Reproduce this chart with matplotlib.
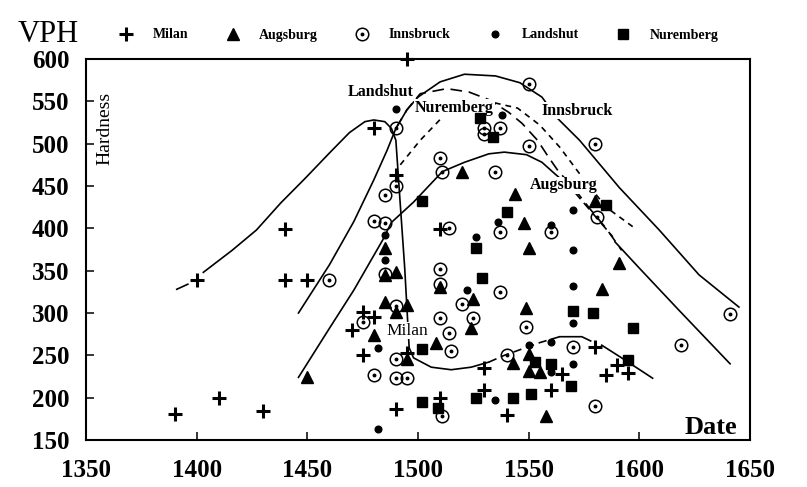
import numpy as np
import matplotlib
matplotlib.use("Agg")
import matplotlib.pyplot as plt
from matplotlib.lines import Line2D

nan = np.nan

# ---------------- data ----------------
milan_x = [1390, 1400, 1410, 1430, 1440, 1440, 1450, 1470, 1475, 1475, 1480, 1480, 1490, 1490,
           1495, 1495, 1510, 1510, 1530, 1530, 1540, 1560, 1565, 1580, 1585, 1590, 1595]
milan_y = [181, 339, 200, 184, 399, 339, 339, 280, 301, 250, 518, 295, 463, 187,
           600, 253, 399, 200, 235, 209, 180, 209, 228, 260, 227, 239, 229]

augsburg_x = [1450, 1480, 1485, 1485, 1485, 1490, 1490, 1495, 1495, 1508, 1510, 1520, 1524,
              1525, 1543, 1544, 1548, 1549, 1550, 1550, 1550, 1555, 1558, 1580, 1583, 1591]
augsburg_y = [224, 274, 377, 345, 313, 348, 301, 309, 246, 264, 331, 467, 282,
              316, 241, 440, 406, 306, 377, 252, 232, 230, 178, 432, 328, 359]

innsbruck_x = [1460, 1475, 1480, 1480, 1485, 1485, 1485, 1490, 1490, 1490, 1490, 1490, 1495,
               1510, 1510, 1510, 1510, 1511, 1511, 1514, 1514, 1515, 1520, 1525,
               1530, 1530, 1535, 1537, 1537, 1537, 1540, 1549, 1550, 1550,
               1560, 1570, 1580, 1580, 1581, 1619, 1641]
innsbruck_y = [339, 289, 409, 227, 439, 406, 346, 518, 450, 308, 246, 223, 223,
               483, 352, 334, 294, 466, 178, 400, 276, 255, 311, 294,
               518, 511, 467, 518, 396, 325, 250, 283, 570, 497,
               396, 260, 500, 190, 413, 262, 299]

landshut_x = [1482, 1482, 1485, 1485, 1490, 1522, 1526, 1535, 1536, 1538, 1550, 1560, 1560,
              1560, 1570, 1570, 1570, 1570, 1570]
landshut_y = [163, 259, 392, 363, 541, 327, 390, 197, 408, 534, 262, 404, 266,
              230, 422, 374, 332, 288, 240]

nuremberg_x = [1502, 1502, 1502, 1509, 1526, 1526, 1528, 1529, 1534, 1540, 1543, 1551, 1553,
               1560, 1569, 1570, 1579, 1585, 1595, 1597]
nuremberg_y = [432, 257, 195, 188, 377, 200, 530, 341, 508, 419, 200, 204, 242,
               240, 214, 302, 300, 428, 244, 282]

# hand-drawn envelope curves
milan_curve_x = [1391, 1396, nan, 1403, 1416, 1427, 1438, 1449, 1460, 1469, 1476, 1480, 1485,
                 1488, 1490, 1492, 1494, 1496, 1498, 1506, 1515, 1524, 1532]
milan_curve_y = [328, 334, nan, 348, 374, 398, 430, 459, 489, 513, 526, 528, 526,
                 518, 504, 428, 353, 259, 247, 236, 233, 236, 242]
milan_dash_x = [1532, 1539, 1555, 1564]
milan_dash_y = [242, 250, 265, 272]
milan_tail_x = [1564, 1574, 1578, nan, 1583, 1592, 1606]
milan_tail_y = [272, 272, 267, nan, 262, 247, 223]

innsbruck_curve_x = [1446, 1460, 1471, 1480, 1486, 1490, 1495, 1500, 1510, 1521, 1535, 1546,
                     1556, 1563, 1573, 1591, 1609, 1627, 1645]
innsbruck_curve_y = [300, 357, 408, 457, 492, 518, 540, 555, 573, 582, 580, 572,
                     555, 530, 504, 448, 398, 345, 307]

augsburg_curve_x = [1446, 1460, 1471, 1484, 1488, 1498, 1511, 1521, 1532, 1539, 1549, 1556, 1562, 1566]
augsburg_curve_y = [224, 282, 327, 386, 407, 431, 467, 478, 488, 490, 487, 478, 464, 455]
augsburg_dash_x = [1571, 1588]
augsburg_dash_y = [442, 390]
augsburg_tail_x = [1589, 1600, 1618, 1641]
augsburg_tail_y = [384, 353, 303, 240]

landshut_curve_x = [1490, 1495, 1501, 1513, 1523, 1532, 1541, 1547, 1554, 1559, 1563, 1572,
                    1578, 1585, 1592]
landshut_curve_y = [518, 540, 559, 565, 561, 552, 537, 524, 504, 484, 469, 442,
                    422, 400, 374]

nuremberg_curve_x = [1492, 1501, 1512, 1523, 1535, 1545, 1555, 1564, 1574, 1585, 1597]
nuremberg_curve_y = [475, 504, 534, 546, 548, 542, 522, 496, 461, 425, 402]

x_ticks = [1350, 1400, 1450, 1500, 1550, 1600, 1650]
y_ticks = [150, 200, 250, 300, 350, 400, 450, 500, 550, 600]

curve_labels = ["Landshut", "Nuremberg", "Innsbruck", "Augsburg", "Milan"]
label_x = [1483, 1516.5, 1572, 1566, 1495]
label_y = [561, 542, 539, 451, 279]

# ---------------- drawing ----------------
plt.rcParams["font.family"] = ["Liberation Serif", "DejaVu Serif"]

fig = plt.figure(figsize=(8.07, 4.87), dpi=100)
ax = fig.add_axes([86 / 807, 47 / 487, 664 / 807, 381 / 487])
ax.set_xlim(1350, 1650)
ax.set_ylim(150, 600)

lw = 1.2
ax.plot(milan_curve_x, milan_curve_y, color="black", lw=lw, zorder=2)
ax.plot(milan_dash_x, milan_dash_y, color="black", lw=lw, ls=(0, (5, 3)), zorder=2)
ax.plot(milan_tail_x, milan_tail_y, color="black", lw=lw, zorder=2)
ax.plot(innsbruck_curve_x, innsbruck_curve_y, color="black", lw=lw, zorder=2)
ax.plot(augsburg_curve_x, augsburg_curve_y, color="black", lw=lw, zorder=2)
ax.plot(augsburg_dash_x, augsburg_dash_y, color="black", lw=lw, ls=(0, (5, 3)), zorder=2)
ax.plot(augsburg_tail_x, augsburg_tail_y, color="black", lw=lw, zorder=2)
ax.plot(landshut_curve_x, landshut_curve_y, color="black", lw=lw, ls=(0, (7, 4)), zorder=2)
ax.plot(nuremberg_curve_x, nuremberg_curve_y, color="black", lw=lw, ls=(0, (3.5, 3)), zorder=2)

for name, lx, ly in zip(curve_labels, label_x, label_y):
    is_milan = name == "Milan"
    ax.text(lx, ly, name, ha="center", va="center",
            fontsize=12.5 if is_milan else 11.5,
            fontweight="normal" if is_milan else "bold",
            bbox=dict(facecolor="white", edgecolor="none", pad=0.5), zorder=3)

mk = dict(linestyle="none", color="black", clip_on=False, zorder=4)
ax.plot(milan_x, milan_y, marker="+", ms=10, mew=2.2, **mk)
ax.plot(augsburg_x, augsburg_y, marker="^", ms=8.5, **mk)
ax.plot(innsbruck_x, innsbruck_y, marker="o", ms=9, mfc="none", mew=1.1, **mk)
ax.plot(innsbruck_x, innsbruck_y, marker="o", ms=1.8, **mk)
ax.plot(landshut_x, landshut_y, marker="o", ms=4.8, **mk)
ax.plot(nuremberg_x, nuremberg_y, marker="s", ms=7, **mk)

ax.set_xticks(x_ticks)
ax.set_yticks(y_ticks)
ax.tick_params(axis="both", direction="in", length=6, width=1.1, labelsize=18)
ax.tick_params(axis="x", pad=14)
ax.tick_params(axis="y", pad=12)
for lbl in ax.get_xticklabels() + ax.get_yticklabels():
    lbl.set_fontweight("bold")
for sp in ax.spines.values():
    sp.set_linewidth(1.5)

ax.text(1358.5, 518, "Hardness", rotation=90, ha="center", va="center", fontsize=14)
ax.text(1632.5, 165, "Date", ha="center", va="center", fontsize=19, fontweight="bold")
fig.text(18 / 807, 1 - 35 / 487, "VPH", ha="left", va="center", fontsize=22)

# legend
h_milan = Line2D([], [], marker="+", ms=10, mew=2.2, color="black", ls="none")
h_aug = Line2D([], [], marker="^", ms=8.5, color="black", ls="none")
h_inn_c = Line2D([], [], marker="o", ms=9, mfc="none", mew=1.1, color="black", ls="none")
h_inn_d = Line2D([], [], marker="o", ms=1.8, color="black", ls="none")
h_land = Line2D([], [], marker="o", ms=4.8, color="black", ls="none")
h_nur = Line2D([], [], marker="s", ms=7, color="black", ls="none")
fig.legend([h_milan, h_aug, (h_inn_c, h_inn_d), h_land, h_nur],
           ["Milan", "Augsburg", "Innsbruck", "Landshut", "Nuremberg"],
           loc="center", bbox_to_anchor=(0.519, 1 - 35 / 487), ncol=5, frameon=False,
           prop=dict(size=10, weight="bold"), handlelength=1.0, handletextpad=1.4,
           columnspacing=2.7, borderpad=0, borderaxespad=0)

fig.savefig("out.png", dpi=100)
